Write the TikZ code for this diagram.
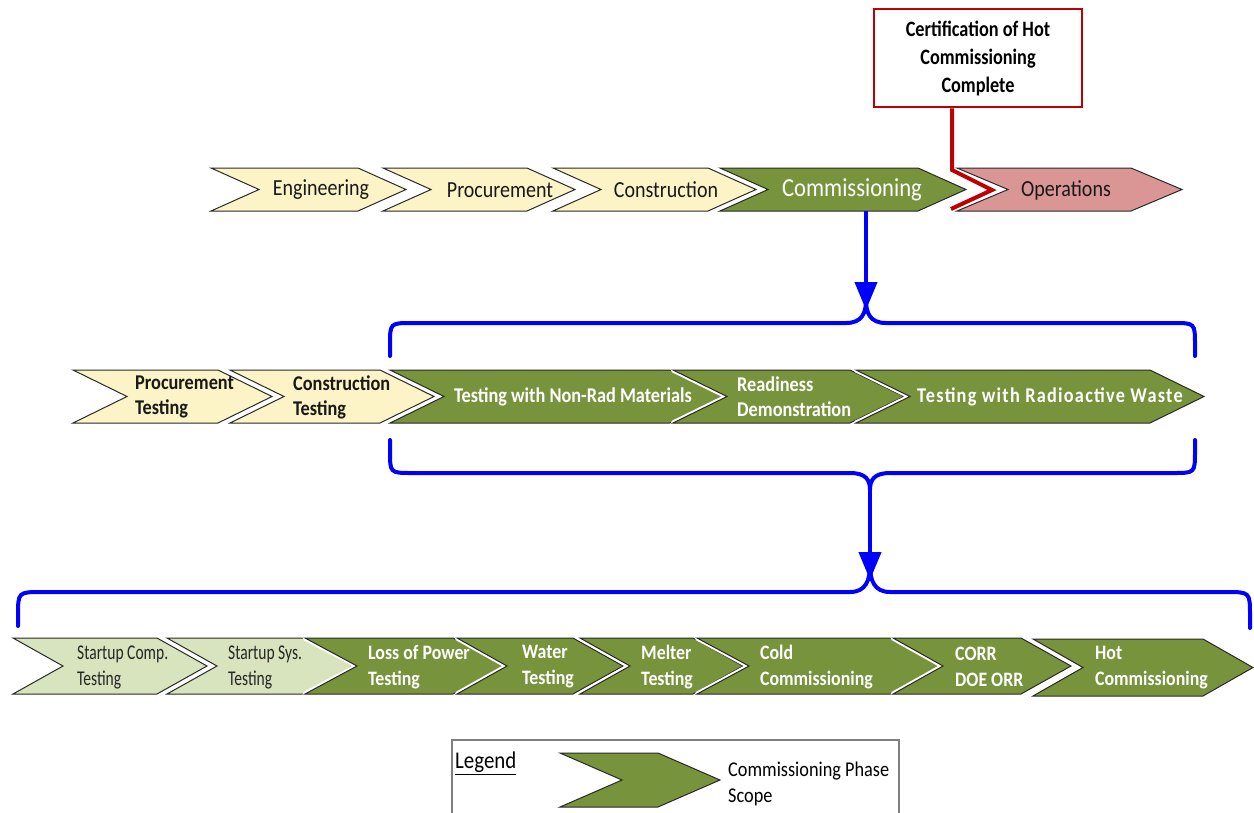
\documentclass[tikz,border=0pt]{standalone}
\usepackage{fontspec}
\setmainfont{Carlito}[FakeStretch=0.87]
\usetikzlibrary{arrows.meta}
\definecolor{cream}{HTML}{FCF3C6}
\definecolor{olive}{HTML}{77933C}
\definecolor{rose}{HTML}{D99694}
\definecolor{palegreen}{HTML}{D7E4BD}
\definecolor{certred}{HTML}{C00000}
\definecolor{chevline}{HTML}{2A2A2A}
\definecolor{legline}{HTML}{7F7F7F}
\newcommand\chev[6]{%
  \path[draw=white,line width=5pt,line join=round]
    (#2,#4) -- (#3,#4) -- ({#3+#6},{(#4+#5)/2}) -- (#3,#5) -- (#2,#5) -- ({#2+#6},{(#4+#5)/2}) -- cycle;
  \path[fill=#1,draw=chevline,line width=1pt,line join=miter]
    (#2,#4) -- (#3,#4) -- ({#3+#6},{(#4+#5)/2}) -- (#3,#5) -- (#2,#5) -- ({#2+#6},{(#4+#5)/2}) -- cycle;}
\begin{document}
\begin{tikzpicture}[x=1pt,y=-1pt,
  lbl/.style={inner sep=0pt,font=\fontsize{23}{27}\selectfont,text=black!90},
  lblw/.style={inner sep=0pt,text=white},
  two/.style={inner sep=0pt,anchor=west,align=left},
  brace/.style={draw=blue,line width=4pt,line cap=round},
  barrow/.style={draw=blue,line width=4pt,-{Triangle[length=28pt,width=22pt]}}]
\useasboundingbox (0,0) rectangle (1254,812);

% ---------- Row 1 ----------
\chev{cream}{211}{358}{168}{211}{48}
\chev{cream}{383}{527}{168}{211}{48}
\chev{cream}{553}{708}{168}{211}{48}
\chev{olive}{720}{918}{168}{211}{48}
\chev{rose}{957}{1131}{168}{211}{51}
\node[lbl] (eng) at (321,190) {Engineering};
\node[lbl] (proc) at (500,190) {Procurement};
\node[lbl] (cons) at (666,190) {Construction};
\node[lblw,font=\fontsize{26}{30}\selectfont] (comm) at (852,190) {Commissioning};
\node[lbl] (ops) at (1066,190) {Operations};

% certification box
\node[draw=certred,line width=2.5pt,fill=white,minimum width=208pt,minimum height=98pt,
      align=center,font=\bfseries\fontsize{22}{28}\selectfont\addfontfeature{FakeStretch=0.83},inner sep=0pt] (cert) at (978,58)
      {Certification of Hot\\Commissioning\\Complete};
\coordinate (redtop) at (952,170);
\coordinate (redmid) at (992,190);
\coordinate (redbot) at (951,209);
\draw[certred,line width=4pt,line join=miter] (cert.south -| redtop) -- (redtop) -- (redmid) -- (redbot);

% arrow 1 and brace 1
\coordinate (commb) at (866,211);
\coordinate (cusp1) at (866,300);
\draw[barrow] (commb) -- ([yshift=-10pt]cusp1);
\draw[brace] (390,356) -- (390,345) .. controls (390,323) .. (412,323) -- (846,323)
  .. controls (862,323) and (866,313) .. (cusp1)
  .. controls (866,313) and (870,323) .. (886,323) -- (1173,323)
  .. controls (1195,323) .. (1195,345) -- (1195,356);

% ---------- Row 2 ----------
\chev{cream}{73}{218}{370}{423}{54}
\chev{cream}{230}{380}{370}{423}{54}
\chev{olive}{390}{670}{370}{423}{54}
\chev{olive}{673}{850}{370}{423}{54}
\chev{olive}{856}{1150}{370}{423}{54}
\begin{scope}[every node/.style={font=\bfseries\fontsize{21}{25}\selectfont}]
\node[two,text=black!90] (pt) at (135,397) {Procurement\\Testing};
\node[two,text=black!90] (ct) at (293,397) {Construction\\Testing};
\node[lblw] (nonrad) at (573,397) {Testing with Non-Rad Materials};
\node[two,text=white] (ready) at (737,397) {Readiness\\Demonstration};
\node[lblw] (rad) at (1050,397) {\addfontfeature{LetterSpace=6}Testing with Radioactive Waste};
\end{scope}

% brace 2 and arrow 2
\coordinate (cusp2) at (870,490);
\coordinate (cusp3) at (870,565);
\draw[brace] (390,440) -- (390,451) .. controls (390,473) .. (412,473) -- (850,473)
  .. controls (866,473) and (870,480) .. (cusp2)
  .. controls (870,480) and (874,473) .. (890,473) -- (1173,473)
  .. controls (1195,473) .. (1195,451) -- (1195,440);
\draw[barrow] (cusp2) -- ([yshift=-15pt]cusp3);
\draw[brace] (18,626) -- (18,616) .. controls (18,592) .. (42,592) -- (850,592)
  .. controls (866,592) and (870,580) .. (cusp3)
  .. controls (870,580) and (874,592) .. (890,592) -- (1226,592)
  .. controls (1250,592) .. (1250,616) -- (1250,628);

% ---------- Row 3 ----------
\chev{palegreen}{13}{157}{638}{694}{50}
\chev{palegreen}{167}{303}{638}{694}{50}
\chev{olive}{305}{453}{638}{694}{52}
\chev{olive}{457}{573}{638}{694}{50}
\chev{olive}{580}{693}{638}{694}{50}
\chev{olive}{697}{891}{638}{694}{52}
\chev{olive}{893}{1021}{638}{694}{50}
\chev{olive}{1033}{1203}{639}{696}{50}
\begin{scope}[every node/.style={two,text=black!85,font=\fontsize{21}{26}\selectfont\addfontfeature{FakeStretch=0.74}}]
\node (sc) at (77,667) {Startup Comp.\\Testing};
\node (ss) at (228,667) {Startup Sys.\\Testing};
\end{scope}
\begin{scope}[every node/.style={two,text=white,font=\bfseries\fontsize{20.5}{26}\selectfont}]
\node (lop) at (368,667) {Loss of Power\\Testing};
\node (wat) at (522,667) {Water\\Testing};
\node (mel) at (641,667) {Melter\\Testing};
\node (cold) at (760,667) {Cold\\Commissioning};
\node (corr) at (955,667) {CORR\\DOE ORR};
\node (hot) at (1095,668) {Hot\\Commissioning};
\end{scope}

% ---------- Legend ----------
\draw[legline,line width=1.5pt] (452,822) -- (452,740) -- (899,740) -- (899,822);
\chev{olive}{560}{658}{753}{807}{62}
\node[anchor=west,inner sep=0pt,font=\fontsize{24}{28}\selectfont] (leg) at (455,763) {\underline{Legend}};
\node[two,font=\fontsize{21}{26}\selectfont] (legtxt) at (728,784) {Commissioning Phase\\Scope};
\end{tikzpicture}
\end{document}
